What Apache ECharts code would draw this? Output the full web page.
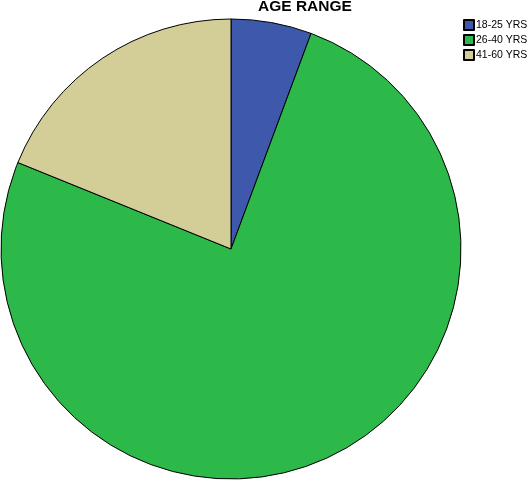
<!DOCTYPE html>
<html><head><meta charset="utf-8">
<script src="https://cdn.jsdelivr.net/npm/echarts@6/dist/echarts.min.js"></script>
<style>html,body{margin:0;padding:0;background:#fff}#c{width:529px;height:480px}</style>
</head><body><div id="c"></div>
<script>
const titleText = 'AGE RANGE';
const categories = ['18-25 YRS', '26-40 YRS', '41-60 YRS'];
const values = [3, 40, 10];
const colors = ['#3e58ac', '#2db84a', '#d3ce98'];

const chart = echarts.init(document.getElementById('c'), null, {renderer: 'canvas'});
chart.setOption({
  animation: false,
  backgroundColor: '#ffffff',
  title: {
    text: titleText, left: 258, top: -1, padding: 0,
    textStyle: {fontFamily: 'Liberation Sans', fontWeight: 'bold', fontSize: 15.5, color: '#000'}
  },
  legend: {
    orient: 'vertical', left: 463, top: 19, padding: 0,
    itemWidth: 10, itemHeight: 10, itemGap: 3,
    icon: 'rect',
    data: categories,
    textStyle: {fontFamily: 'Liberation Sans', fontSize: 10.5, color: '#000', padding: [0,0,0,-3]}
  },
  series: [{
    type: 'pie',
    center: [231, 249],
    radius: 230,
    startAngle: 90,
    clockwise: true,
    label: {show: false},
    labelLine: {show: false},
    emphasis: {disabled: true},
    itemStyle: {borderColor: '#000', borderWidth: 1},
    data: categories.map((c, i) => ({name: c, value: values[i], itemStyle: {color: colors[i]}}))
  }]
});
</script></body></html>
